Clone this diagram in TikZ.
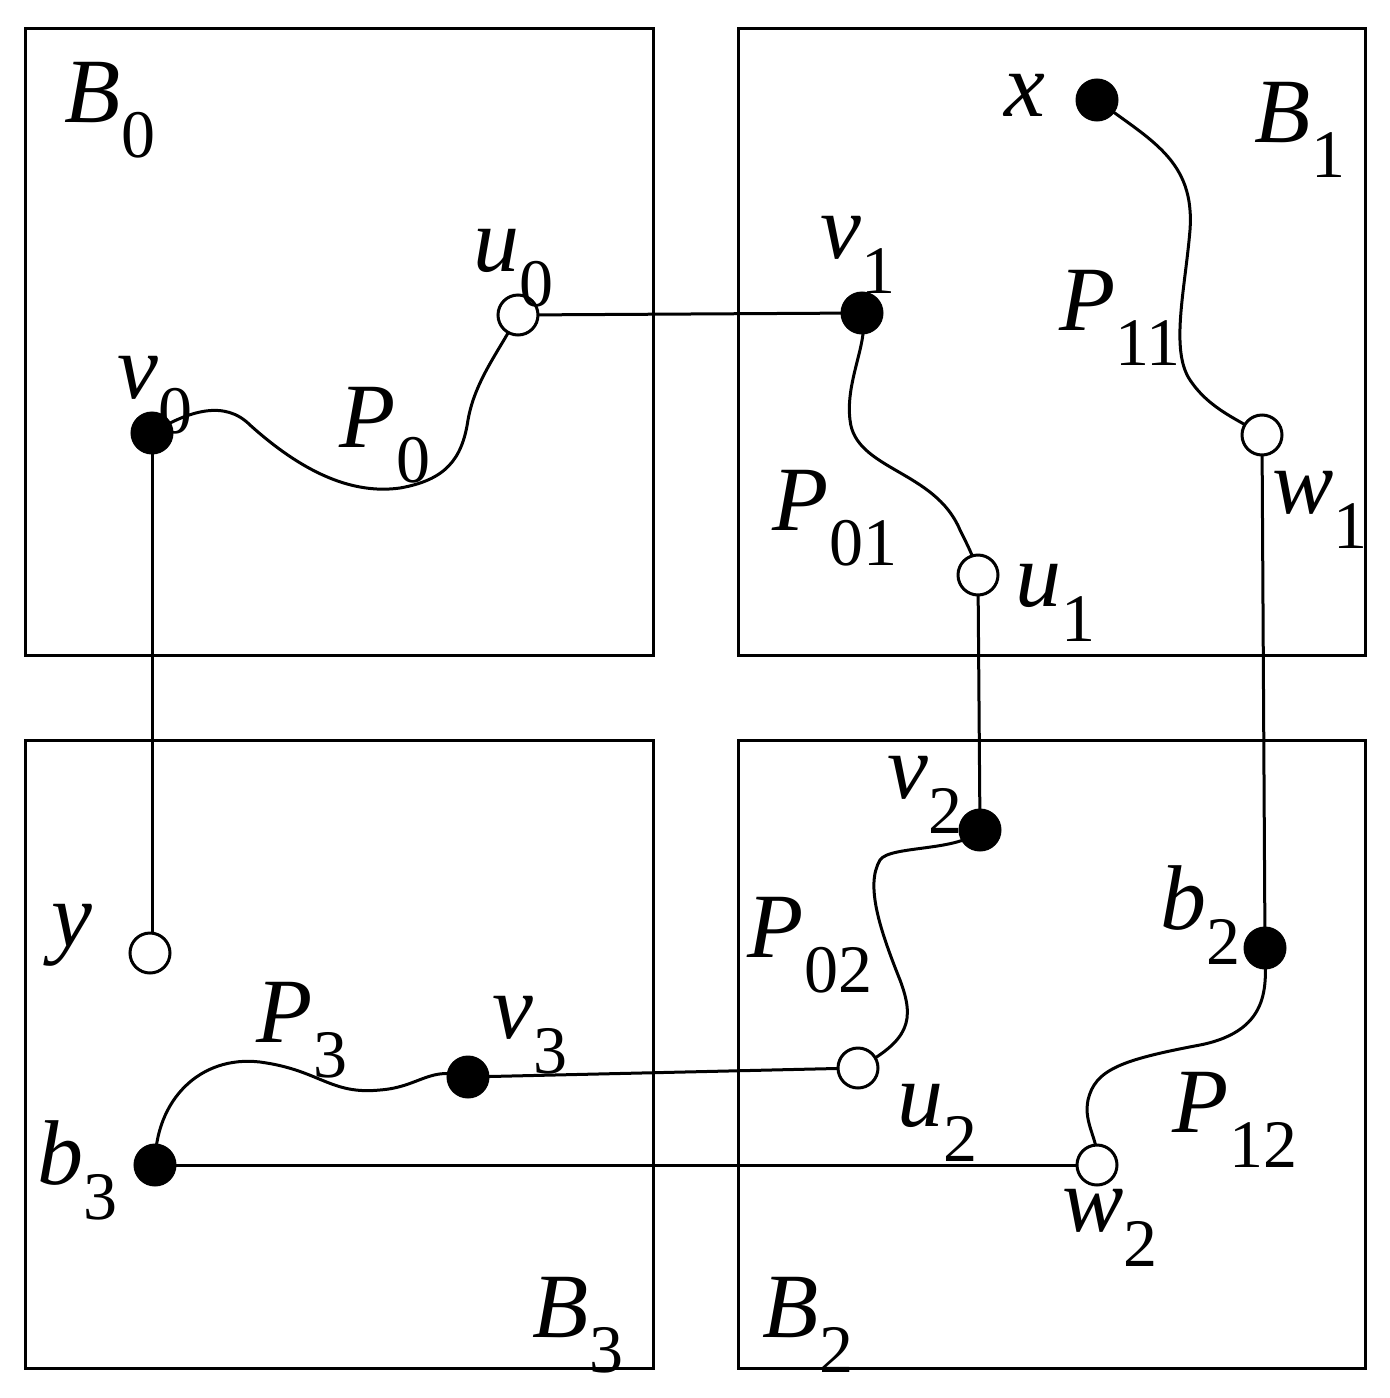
\documentclass[tikz,border=0pt]{standalone}
\usepackage{fontspec}
\setmainfont{Liberation Serif}
\newcommand{\lb}[2]{\textit{#1}\raisebox{-0.38em}{\fontsize{34}{36}\selectfont #2}}
\begin{document}
\begin{tikzpicture}[x=0.5pt,y=-0.5pt,line width=1.5pt,
  fv/.style={circle,draw,fill=black,minimum size=20pt,inner sep=0pt},
  ov/.style={circle,draw,fill=white,minimum size=20pt,inner sep=0pt},
  lab/.style={font=\fontsize{46}{50}\selectfont,inner sep=0pt}]
\useasboundingbox (0,0) rectangle (1390,1398);
\draw (25,28) rectangle (653,655);
\draw (738,28) rectangle (1365,655);
\draw (25,740) rectangle (653,1368);
\draw (738,740) rectangle (1365,1368);
% straight
\coordinate (v0c) at (152,433); \coordinate (yc) at (150,953);
\draw (518,315) -- (862,313);
\draw (152,433) -- (152,953);
\draw (978,575) -- (980,830);
\draw (1262,435) -- (1265,948);
\draw (468,1077) -- (858,1068);
\draw (155,1165) -- (1097,1165);
% curves
\draw (152,433) .. controls (190,410) and (225,400) .. (250,425) .. controls (300,470) and (350,495) .. (400,488) .. controls (445,480) and (462,460) .. (468,420) .. controls (475,380) and (500,350) .. (518,315);
\draw (862,313) .. controls (870,340) and (845,380) .. (850,420) .. controls (855,470) and (935,470) .. (960,530) .. controls (970,550) and (975,560) .. (978,575);
\draw (1097,100) .. controls (1150,140) and (1195,160) .. (1190,230) .. controls (1185,290) and (1170,350) .. (1190,380) .. controls (1210,410) and (1240,420) .. (1262,435);
\draw (980,830) .. controls (960,852) and (890,845) .. (880,860) .. controls (865,885) and (880,930) .. (900,980) .. controls (915,1020) and (910,1040) .. (858,1068);
\draw (1265,948) .. controls (1265,980) and (1275,1030) .. (1200,1045) .. controls (1120,1060) and (1095,1070) .. (1088,1100) .. controls (1083,1125) and (1100,1140) .. (1097,1165);
\draw (155,1165) .. controls (155,1100) and (200,1055) .. (260,1062) .. controls (320,1070) and (330,1095) .. (380,1090) .. controls (420,1087) and (430,1065) .. (468,1077);
% nodes
\node[fv] (v0) at (152,433) {};
\node[ov] (u0) at (518,315) {};
\node[fv] (v1) at (862,313) {};
\node[ov] (u1) at (978,575) {};
\node[fv] (x) at (1097,100) {};
\node[ov] (w1) at (1262,435) {};
\node[fv] (v2) at (980,830) {};
\node[fv] (b2) at (1265,948) {};
\node[ov] (u2) at (858,1068) {};
\node[ov] (w2) at (1097,1165) {};
\node[ov] (y) at (150,953) {};
\node[fv] (v3) at (468,1077) {};
\node[fv] (b3) at (155,1165) {};
% labels
\node[lab] at (110,110) {\lb{B}{0}};
\node[lab] at (1300,130) {\lb{B}{1}};
\node[lab] at (578,1325) {\lb{B}{3}};
\node[lab] at (808,1325) {\lb{B}{2}};
\node[lab] at (1025,95) {\textit{x}};
\node[lab] at (155,395) {\lb{v}{0}};
\node[lab] at (513,268) {\lb{u}{0}};
\node[lab] at (858,255) {\lb{v}{1}};
\node[lab] at (385,435) {\lb{P}{0}};
\node[lab] at (835,518) {\lb{P}{01}};
\node[lab] at (1120,318) {\lb{P}{11}};
\node[lab] at (1320,510) {\lb{w}{1}};
\node[lab] at (1055,603) {\lb{u}{1}};
\node[lab] at (925,795) {\lb{v}{2}};
\node[lab] at (810,945) {\lb{P}{02}};
\node[lab] at (1200,915) {\lb{b}{2}};
\node[lab] at (72,935) {\textit{y}};
\node[lab] at (302,1030) {\lb{P}{3}};
\node[lab] at (530,1035) {\lb{v}{3}};
\node[lab] at (78,1170) {\lb{b}{3}};
\node[lab] at (937,1123) {\lb{u}{2}};
\node[lab] at (1235,1120) {\lb{P}{12}};
\node[lab] at (1110,1228) {\lb{w}{2}};
\end{tikzpicture}
\end{document}
